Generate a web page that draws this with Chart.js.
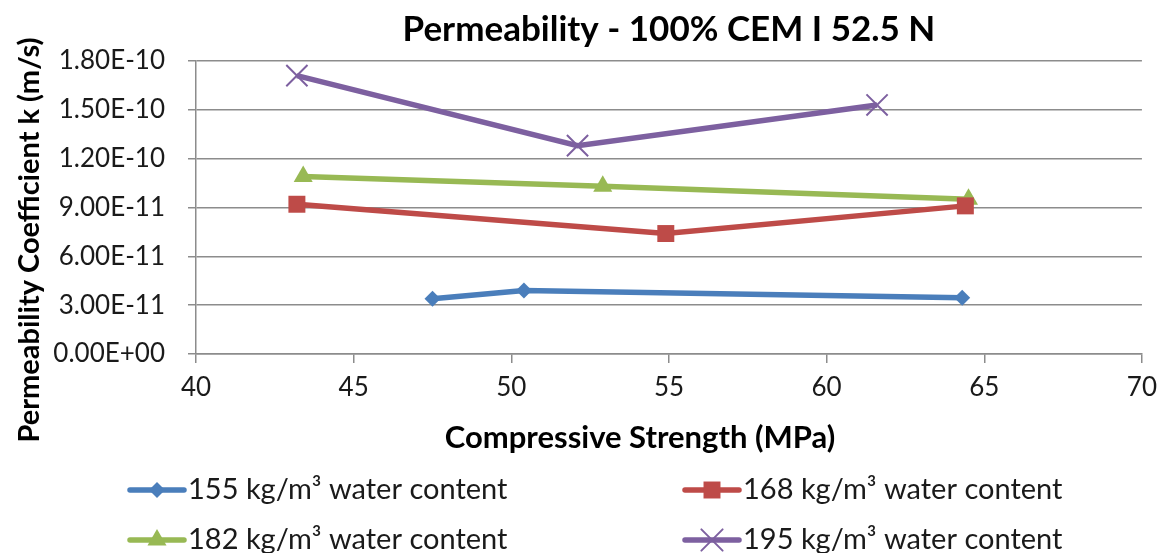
<!DOCTYPE html>
<html>
<head>
<meta charset="utf-8">
<title>Permeability - 100% CEM I 52.5 N</title>
<script src="https://cdn.jsdelivr.net/npm/chart.js@4/dist/chart.umd.min.js"></script>
<style>
  html, body { margin: 0; padding: 0; background: #ffffff; }
  #wrap { width: 1166px; height: 553px; position: relative; }
</style>
</head>
<body>
<div id="wrap"><canvas id="chart" width="1166" height="553"></canvas></div>
<script>
// Compressive strength (MPa) and permeability coefficient k (m/s) per mix
const strength155 = [47.5, 50.4, 64.3];
const perm155     = [3.4e-11, 3.9e-11, 3.45e-11];
const strength168 = [43.2, 54.9, 64.4];
const perm168     = [9.2e-11, 7.4e-11, 9.1e-11];
const strength182 = [43.4, 52.9, 64.5];
const perm182     = [1.09e-10, 1.03e-10, 9.5e-11];
const strength195 = [43.2, 52.1, 61.6];
const perm195     = [1.71e-10, 1.28e-10, 1.53e-10];

const seriesNames = [
  '155 kg/m\u00B3 water content',
  '168 kg/m\u00B3 water content',
  '182 kg/m\u00B3 water content',
  '195 kg/m\u00B3 water content'
];

const xTicks = [40, 45, 50, 55, 60, 65, 70];
const yTicks = [0, 3e-11, 6e-11, 9e-11, 1.2e-10, 1.5e-10, 1.8e-10];

const chartTitle = 'Permeability - 100% CEM I 52.5 N';
const xTitle = 'Compressive Strength (MPa)';
const yTitle = 'Permeability Coefficient k (m/s)';

const FONT = 'Lato, "Open Sans", sans-serif';
const GRID = '#8c8c8c';

function toPoints(xs, ys) {
  return xs.map((x, i) => ({ x: x, y: ys[i] }));
}

// Scientific notation with a two-digit exponent, e.g. 1.80E-10
function sci(v) {
  if (v === 0) return '0.00E+00';
  let e = Math.floor(Math.log10(Math.abs(v)) + 1e-9);
  let m = v / Math.pow(10, e);
  if (Math.abs(m) >= 9.995) { m /= 10; e += 1; }
  const sign = e < 0 ? '-' : '+';
  return m.toFixed(2) + 'E' + sign + String(Math.abs(e)).padStart(2, '0');
}

const styles = [
  { color: '#4a7ebb', pointStyle: 'rectRot', radius: 8, border: 0 },
  { color: '#be4b48', pointStyle: 'rect', radius: 12, border: 0 },
  { color: '#98b954', pointStyle: 'triangle', radius: 11, border: 0 },
  { color: '#7d60a0', pointStyle: 'crossRot', radius: 15, border: 2 }
];

const seriesData = [
  toPoints(strength155, perm155),
  toPoints(strength168, perm168),
  toPoints(strength182, perm182),
  toPoints(strength195, perm195)
];

const datasets = seriesData.map((d, i) => ({
  label: seriesNames[i],
  data: d,
  borderColor: styles[i].color,
  backgroundColor: styles[i].color,
  borderWidth: 5.5,
  pointStyle: styles[i].pointStyle,
  pointRadius: styles[i].radius,
  pointHoverRadius: styles[i].radius,
  pointBorderWidth: styles[i].border,
  pointBorderColor: styles[i].color,
  pointBackgroundColor: styles[i].color,
  tension: 0,
  showLine: true
}));

// Axis titles, placed relative to the plot area
const axisTitles = {
  id: 'axisTitles',
  afterDraw(chart) {
    const ctx = chart.ctx;
    ctx.save();
    ctx.fillStyle = '#000000';
    ctx.textAlign = 'center';
    ctx.textBaseline = 'middle';
    ctx.font = 'bold 31px ' + FONT;
    ctx.fillText(xTitle, 640, 438);
    ctx.translate(30, 240);
    ctx.rotate(-Math.PI / 2);
    ctx.font = 'bold 29px ' + FONT;
    ctx.fillText(yTitle, 0, 0);
    ctx.restore();
  }
};

// Two-column legend under the x axis: line sample with marker, then label
const legendBelow = {
  id: 'legendBelow',
  afterDraw(chart) {
    const ctx = chart.ctx;
    const cols = [130, 685];
    const rows = [490, 540];
    ctx.save();
    chart.data.datasets.forEach((ds, i) => {
      const x0 = cols[i % 2];
      const y = rows[Math.floor(i / 2)];
      ctx.strokeStyle = ds.borderColor;
      ctx.lineWidth = 5.5;
      ctx.lineCap = 'round';
      ctx.beginPath();
      ctx.moveTo(x0, y);
      ctx.lineTo(x0 + 54, y);
      ctx.stroke();
      ctx.fillStyle = ds.backgroundColor;
      ctx.strokeStyle = ds.borderColor;
      ctx.lineWidth = ds.pointBorderWidth || 0;
      Chart.helpers.drawPoint(ctx, {
        pointStyle: ds.pointStyle,
        radius: ds.pointRadius,
        rotation: 0,
        borderWidth: ds.pointBorderWidth || 0
      }, x0 + 27, y);
      ctx.fillStyle = '#1a1a1a';
      ctx.font = '29px ' + FONT;
      ctx.textBaseline = 'middle';
      ctx.textAlign = 'left';
      ctx.fillText(ds.label, x0 + 58, y);
    });
    ctx.restore();
  }
};

new Chart(document.getElementById('chart'), {
  type: 'line',
  data: { datasets: datasets },
  plugins: [axisTitles, legendBelow],
  options: {
    responsive: false,
    animation: false,
    events: [],
    layout: { padding: { top: 0, left: 0, right: 24, bottom: 99 } },
    plugins: {
      legend: { display: false },
      tooltip: { enabled: false },
      title: {
        display: true,
        fullSize: false,
        text: chartTitle,
        color: '#000000',
        font: { family: FONT, size: 35, weight: 'bold' },
        padding: { top: 9, bottom: 10 }
      }
    },
    scales: {
      x: {
        type: 'linear',
        min: 40,
        max: 70,
        afterBuildTicks(scale) { scale.ticks = xTicks.map(v => ({ value: v })); },
        afterFit(scale) { scale.height = 100; },
        ticks: {
          color: '#1a1a1a',
          font: { family: FONT, size: 26 },
          padding: 9,
          callback: v => String(v)
        },
        grid: {
          drawOnChartArea: false,
          drawTicks: true,
          tickLength: 9,
          color: GRID,
          lineWidth: 1.5
        },
        border: { display: true, color: GRID, width: 1.5 }
      },
      y: {
        type: 'linear',
        min: 0,
        max: 1.8e-10,
        afterBuildTicks(scale) { scale.ticks = yTicks.map(v => ({ value: v })); },
        afterFit(scale) { scale.width = 196; },
        ticks: {
          color: '#1a1a1a',
          font: { family: FONT, size: 26 },
          padding: 23,
          callback: v => sci(v)
        },
        grid: {
          drawOnChartArea: true,
          drawTicks: true,
          tickLength: 8,
          color: GRID,
          lineWidth: 1.5
        },
        border: { display: true, color: GRID, width: 1.5 }
      }
    }
  }
});
</script>
</body>
</html>
